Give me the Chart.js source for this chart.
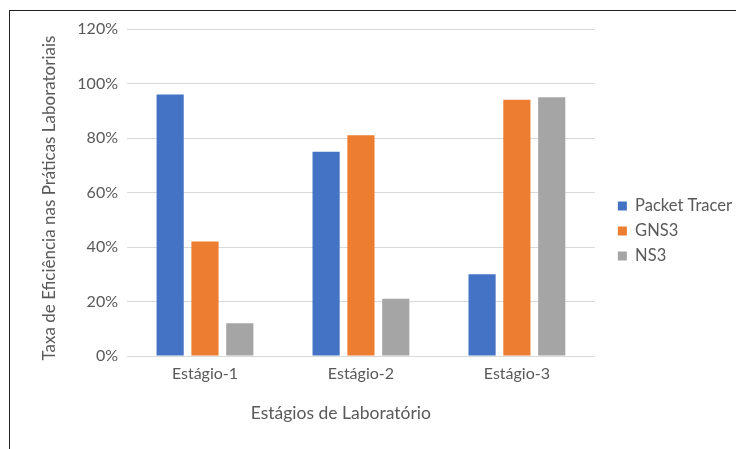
<!DOCTYPE html>
<html>
<head>
<meta charset="utf-8">
<script src="https://cdn.jsdelivr.net/npm/chart.js@4"></script>
<style>
  html, body { margin: 0; padding: 0; background: #fff; overflow: hidden; }
  #wrap { position: relative; width: 736px; height: 449px; }
  #frame { position: absolute; left: 9px; top: 10px; width: 800px; height: 500px; border: 1px solid #222; box-sizing: border-box; pointer-events: none; }
  canvas { position: absolute; left: 0; top: 0; }
</style>
</head>
<body>
<div id="wrap">
  <canvas id="chart" width="736" height="449"></canvas>
  <div id="frame"></div>
</div>
<script>
// Data
const stages = ['Estágio-1', 'Estágio-2', 'Estágio-3'];
const packetTracer = [96, 75, 30];
const gns3 = [42, 81, 94];
const ns3 = [12, 21, 95];
const yTicks = [0, 20, 40, 60, 80, 100, 120];
const xTitle = 'Estágios de Laboratório';
const yTitle = 'Taxa de Eficiência nas Práticas Laboratoriais';

const textColor = '#595959';
const tickFont = { family: 'Lato', size: 16 };
const legendFont = { family: 'Lato', size: 16.5 };

// axis titles sit a little off-centre in the original, so draw them here
const axisTitles = {
    id: 'axisTitles',
    afterDraw(chart) {
        const { ctx, chartArea } = chart;
        ctx.save();
        ctx.fillStyle = textColor;
        ctx.textAlign = 'center';
        ctx.textBaseline = 'alphabetic';
        ctx.font = '17.5px Lato';
        ctx.fillText(xTitle, chartArea.left + chartArea.width * 0.457, chartArea.bottom + 63);
        ctx.font = '17px Lato';
        ctx.translate(chartArea.left - 72.5, chartArea.top + chartArea.height * 0.517);
        ctx.rotate(-Math.PI / 2);
        ctx.fillText(yTitle, 0, 0);
        ctx.restore();
    }
};

const ctx = document.getElementById('chart').getContext('2d');

const chart = new Chart(ctx, {
    type: 'bar',
    data: {
        labels: stages,
        datasets: [
            { label: 'Packet Tracer', data: packetTracer, backgroundColor: '#4472C4' },
            { label: 'GNS3', data: gns3, backgroundColor: '#ED7D31' },
            { label: 'NS3', data: ns3, backgroundColor: '#A5A5A5' }
        ]
    },
    options: {
        responsive: false,
        animation: false,
        categoryPercentage: 0.67,
        barPercentage: 0.78,
        layout: { padding: { top: 29, bottom: 16, left: 10, right: -6 } },
        plugins: {
            title: { display: false },
            tooltip: { enabled: false },
            legend: {
                position: 'right',
                align: 'center',
                maxWidth: 200,
                labels: {
                    color: textColor,
                    font: legendFont,
                    boxWidth: 9,
                    boxHeight: 9,
                    padding: 8.5
                }
            }
        },
        scales: {
            x: {
                grid: { display: false, drawTicks: false },
                border: { display: false },
                ticks: { color: textColor, font: tickFont, padding: 8 },
                afterFit: s => { s.height = 77; }
            },
            y: {
                min: 0,
                max: 120,
                afterBuildTicks: s => { s.ticks = yTicks.map(v => ({ value: v })); },
                grid: { color: '#D9D9D9', lineWidth: 1, drawTicks: false },
                border: { display: false },
                ticks: { color: textColor, font: tickFont, padding: 9, callback: v => v + '%' },
                afterFit: s => { s.width = 117; }
            },
            spacer: {
                type: 'linear',
                position: 'right',
                display: true,
                grid: { display: false, drawTicks: false },
                border: { display: false },
                ticks: { display: false },
                afterFit: s => { s.width = 14.5; }
            }
        }
    },
    plugins: [axisTitles]
});
</script>
</body>
</html>
